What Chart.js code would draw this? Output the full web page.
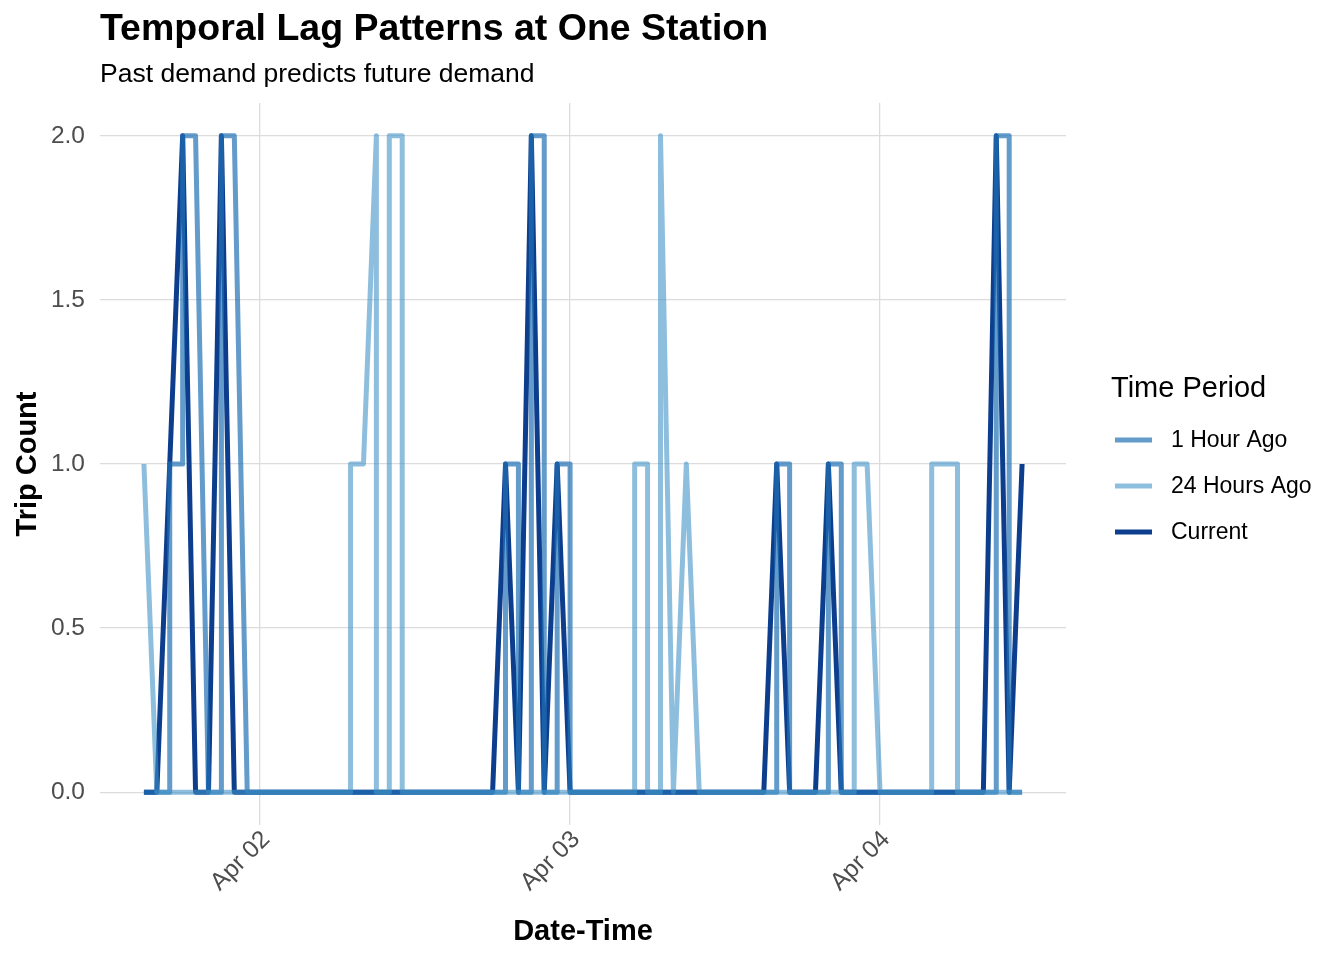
<!DOCTYPE html>
<html>
<head>
<meta charset="utf-8">
<title>Temporal Lag Patterns at One Station</title>
<script src="https://cdn.jsdelivr.net/npm/chart.js@4.4.1/dist/chart.umd.min.js"></script>
<style>
  html, body { margin: 0; padding: 0; background: #ffffff; }
  #wrap { width: 1344px; height: 960px; }
</style>
</head>
<body>
<div id="wrap"><canvas id="lagChart" width="1344" height="960"></canvas></div>
<script>
// Hourly trip counts at one station, Apr 01 15:00 to Apr 04 11:00.
// Hours are counted from Apr 02 00:00, so the first row is hour -9.
var firstHour = -9;
var dayTicks = [0, 24, 48];
var dayLabels = ["Apr 02", "Apr 03", "Apr 04"];
var countTicks = [0, 0.5, 1, 1.5, 2];
var seriesNames = ["1 Hour Ago", "24 Hours Ago", "Current"];

// one entry per hour; a pair [a, b] means the line jumps from a to b at that hour
var oneHourAgo = [
  0, 0, [0, 1], [1, 2], 2, 0, [0, 2], 2, 0,
  0, 0, 0, 0, 0, 0, 0, 0, 0, 0, 0, 0, 0, 0, 0, 0, 0, 0, 0, [0, 1], [1, 0], [0, 2], [2, 0], [0, 1],
  [1, 0], 0, 0, 0, 0, 0, 0, 0, 0, 0, 0, 0, 0, 0, 0, 0, [0, 1], [1, 0], 0, 0, [0, 1], [1, 0], 0, 0,
  0, 0, 0, 0, 0, 0, 0, 0, 0, [0, 2], [2, 0], 0
];

var dayAgo = [
  1, 0, 0, 0, 0, 0, 0, 0, 0,
  0, 0, 0, 0, 0, 0, 0, [0, 1], 1, [2, 0], [0, 2], [2, 0], 0, 0, 0, 0, 0, 0, 0, 0, 0, 0, 0, 0,
  0, 0, 0, 0, 0, [0, 1], [1, 0], [0, 2], 0, 1, 0, 0, 0, 0, 0, 0, 0, 0, 0, 0, 0, 0, [0, 1], 1,
  0, 0, 0, 0, [0, 1], 1, [1, 0], 0, 0, 0, 0, 0
];

var current = [
  0, 0, 1, 2, 0, 0, 2, 0, 0,
  0, 0, 0, 0, 0, 0, 0, 0, 0, 0, 0, 0, 0, 0, 0, 0, 0, 0, 0, 1, 0, 2, 0, 1,
  0, 0, 0, 0, 0, 0, 0, 0, 0, 0, 0, 0, 0, 0, 0, 0, 1, 0, 0, 0, 1, 0, 0, 0,
  0, 0, 0, 0, 0, 0, 0, 0, 0, 2, 0, 1
];

var lineColors = ["rgba(33, 113, 181, 0.7)", "rgba(66, 146, 198, 0.6)", "#0c3e8d"];

var fontFamily = '"Liberation Sans", Arial, Helvetica, sans-serif';

// turn the hourly lists into {x, y} points, two points where the line jumps
function toPoints(values) {
  var pts = [];
  values.forEach(function(v, i) {
    [].concat(v).forEach(function(y) {
      pts.push({ x: firstHour + i, y: y });
    });
  });
  return pts;
}

// ggplot-style legend on the right
var timePeriodLegend = {
  id: "timePeriodLegend",
  afterDraw: function(chart) {
    var ctx = chart.ctx;
    var left = chart.chartArea.right + 45;
    ctx.save();
    ctx.textBaseline = "middle";
    ctx.textAlign = "left";
    ctx.fillStyle = "#000000";
    ctx.font = "29px " + fontFamily;
    ctx.fillText("Time Period", left, 389);
    ctx.font = "23px " + fontFamily;
    chart.data.datasets.forEach(function(ds, i) {
      var y = 440 + i * 46;
      ctx.beginPath();
      ctx.strokeStyle = ds.borderColor;
      ctx.lineWidth = 4.8;
      ctx.lineCap = "butt";
      ctx.moveTo(left + 4, y);
      ctx.lineTo(left + 41, y);
      ctx.stroke();
      ctx.fillStyle = "#000000";
      ctx.fillText(ds.label, left + 60, y + 1);
    });
    ctx.restore();
  }
};

var ctx = document.getElementById("lagChart").getContext("2d");

var lagChart = new Chart(ctx, {
  type: "line",
  data: {
    datasets: [
      { label: seriesNames[0], data: toPoints(oneHourAgo), borderColor: lineColors[0], order: 1 },
      { label: seriesNames[1], data: toPoints(dayAgo), borderColor: lineColors[1], order: 0 },
      { label: seriesNames[2], data: toPoints(current), borderColor: lineColors[2], order: 2 }
    ]
  },
  options: {
    responsive: false,
    animation: false,
    layout: { padding: { left: 0, right: 278, top: 0, bottom: 0 } },
    elements: {
      point: { radius: 0, hoverRadius: 0 },
      line: { borderWidth: 5, tension: 0, fill: false, borderJoinStyle: "round", borderCapStyle: "butt" }
    },
    plugins: {
      legend: { display: false },
      tooltip: { enabled: false },
      title: {
        display: true,
        text: "Temporal Lag Patterns at One Station",
        align: "start",
        fullSize: false,
        color: "#000000",
        font: { family: fontFamily, size: 37.5, weight: "bold", lineHeight: 1 },
        padding: { top: 11, bottom: 0 }
      },
      subtitle: {
        display: true,
        text: "Past demand predicts future demand",
        align: "start",
        fullSize: false,
        color: "#000000",
        font: { family: fontFamily, size: 26.5, weight: "normal", lineHeight: 1 },
        padding: { top: 13, bottom: 15 }
      }
    },
    scales: {
      x: {
        type: "linear",
        min: -12.4,
        max: 62.4,
        afterBuildTicks: function(scale) {
          scale.ticks = dayTicks.map(function(v) { return { value: v }; });
        },
        afterFit: function(scale) { scale.height = 135; },
        grid: { color: "#dcdcdc", lineWidth: 1.3, drawTicks: false },
        border: { display: false },
        ticks: {
          autoSkip: false,
          minRotation: 45,
          maxRotation: 45,
          padding: 2,
          labelOffset: 6,
          color: "#4d4d4d",
          font: { family: fontFamily, size: 24.5, lineHeight: 1 },
          callback: function(value) { return dayLabels[dayTicks.indexOf(value)]; }
        },
        title: {
          display: true,
          text: "Date-Time",
          color: "#000000",
          font: { family: fontFamily, size: 29, weight: "bold", lineHeight: 1 },
          padding: { top: 0, bottom: 14 }
        }
      },
      y: {
        min: -0.1,
        max: 2.1,
        afterBuildTicks: function(scale) {
          scale.ticks = countTicks.map(function(v) { return { value: v }; });
        },
        afterFit: function(scale) { scale.width = 100; },
        grid: { color: "#dcdcdc", lineWidth: 1.3, drawTicks: false },
        border: { display: false },
        ticks: {
          padding: 15,
          color: "#4d4d4d",
          font: { family: fontFamily, size: 24.5, lineHeight: 1 },
          callback: function(value) { return value.toFixed(1); }
        },
        title: {
          display: true,
          text: "Trip Count",
          color: "#000000",
          font: { family: fontFamily, size: 29, weight: "bold", lineHeight: 1 },
          padding: { top: 13, bottom: 0 }
        }
      }
    }
  },
  plugins: [timePeriodLegend]
});
</script>
</body>
</html>
